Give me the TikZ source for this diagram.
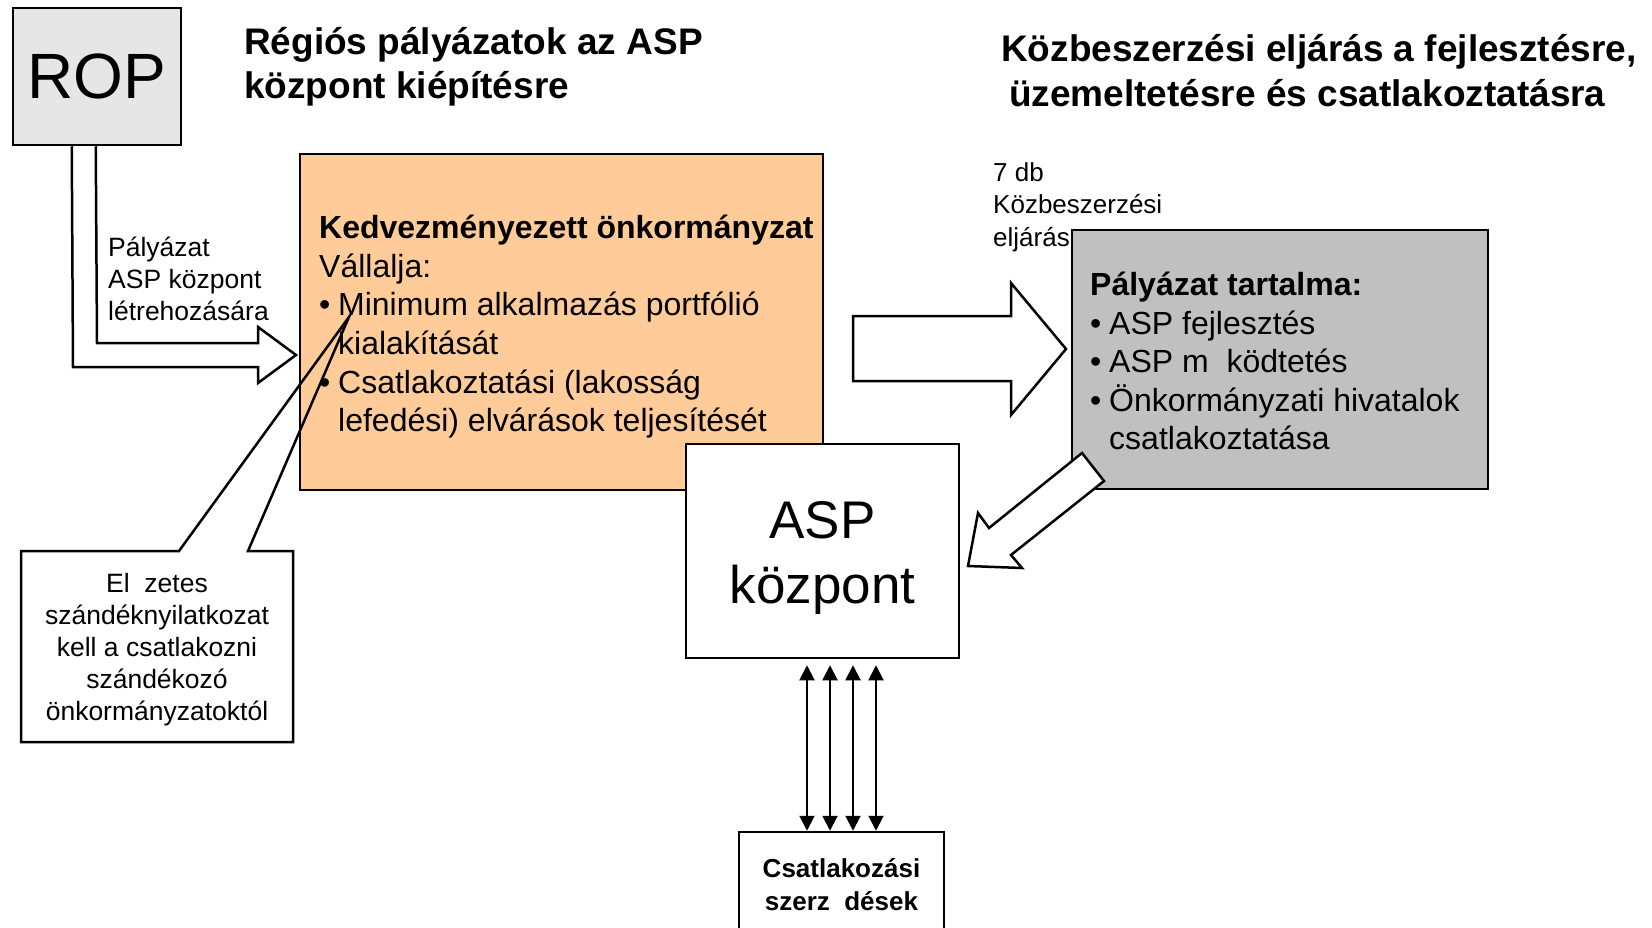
\documentclass[tikz,border=0pt]{standalone}
\usepackage{fontspec}
\setmainfont{Liberation Sans}
\usetikzlibrary{calc,arrows.meta,backgrounds}
\definecolor{ropgray}{HTML}{E6E6E6}
\definecolor{kedvorange}{HTML}{FFCC99}
\definecolor{tartgray}{HTML}{C0C0C0}
\newcommand{\boxline}{2.5pt}
\newcommand{\fsz}[2]{\fontsize{#1}{#2}\selectfont}
\newcommand{\bul}{\makebox[19pt][l]{\textbullet}}
\tikzset{
  box/.style={draw, line width=\boxline, inner sep=0pt},
  txt/.style={inner sep=0pt, anchor=north west, align=left},
  blockarrow/.style={draw, fill=white, line width=\boxline, line join=miter},
  link/.style={line width=2pt, {Triangle[width=15pt,length=15pt]}-{Triangle[width=15pt,length=15pt]}}
}

\begin{document}
\begin{tikzpicture}[x=1pt,y=-1pt]
\useasboundingbox (0,0) rectangle (1652,928);
\clip (0,0) rectangle (1652,928);
%titles
\node[txt, font=\bfseries\fsz{37}{44}] (title1) at (244,27) {Régiós pályázatok az ASP\\központ kiépítésre};
\node[txt, font=\bfseries\fsz{37}{45.5}] (title2) at (1001,34) {Közbeszerzési eljárás a fejlesztésre,\\\hspace*{8pt}üzemeltetésre és csatlakoztatásra};
%ROP
\node[box, fill=ropgray, minimum width=168pt, minimum height=137pt, font=\fsz{64}{70}] (rop) at (97,76.5) {\raisebox{-3pt}{ROP}};
\begin{scope}[on background layer]
\draw[blockarrow] ($(rop.south west)+(60,0)$) -- (73,367) -- (258,367) -- (258,383) -- (296,355) -- (258,327) -- (258,343) -- (97,343) -- ($(rop.south west)+(84,0)$);
\end{scope}
\node[txt, font=\fsz{26.5}{32}] (palnote) at (108,237) {Pályázat\\ASP központ\\létrehozására};
%kedvezmenyezett
\node[box, fill=kedvorange, minimum width=523pt, minimum height=336pt] (kedv) at (561.5,322) {};
\node[txt, font=\fsz{32}{38.6}] (kedvtext) at (319,215) {\textbf{Kedvezményezett önkormányzat}\\Vállalja:\\\bul Minimum alkalmazás portfólió\\\hspace*{19pt}kialakítását\\\bul Csatlakoztatási (lakosság\\\hspace*{19pt}lefedési) elvárások teljesítését};
%callout
\node[align=center, inner sep=0pt, font=\fsz{26.5}{32}] (szandek) at (157,649.5) {El\ \ zetes\\szándéknyilatkozat\\kell a csatlakozni\\szándékozó\\önkormányzatoktól};
\draw[line width=\boxline, line join=miter] (21,551) -- (179,551) -- (349,317) -- (248,551) -- (293,551) -- (293,742) -- (21,742) -- cycle;
%kozbeszerzes
\node[txt, font=\fsz{26}{32.5}] (kbnote) at (993,162) {7 db\\Közbeszerzési\\eljárás};
\node[box, fill=tartgray, minimum width=416pt, minimum height=259pt] (tart) at (1280,359.5) {};
\node[txt, font=\fsz{32}{38.5}] (tarttext) at (1090,272) {\textbf{Pályázat tartalma:}\\\bul ASP fejlesztés\\\bul ASP m\ \ ködtetés\\\bul Önkormányzati hivatalok\\\hspace*{19pt}csatlakoztatása};
\draw[blockarrow] (853,316) -- (1011,316) -- (1011,283) -- (1066,349) -- (1011,415) -- (1011,381) -- (853,381) -- cycle;
%ASP
\node[box, fill=white, minimum width=273pt, minimum height=214pt] (asp) at (822.5,551) {};
\node[align=center, inner sep=0pt, font=\fsz{53}{65}] (asptext) at ($(asp)+(0,7)$) {ASP\\központ};
\draw[blockarrow] (1082,453) -- (989,528) -- (978,513) -- (968,566) -- (1022,568) -- (1011,555) -- (1104,481) -- cycle;
%szerzodesek
\node[box, fill=white, minimum width=205pt, minimum height=106pt, align=center, font=\bfseries\fsz{26}{33}] (szerz) at (841.5,885) {Csatlakozási\\szerz\ \ dések};
\foreach \dx in {-15.5,7.5,30.5,53.5}
  \draw[link] ($(asp.south)+(\dx,6)$) -- ($(asp.south |- szerz.north)+(\dx,0)$);
\end{tikzpicture}
\end{document}
